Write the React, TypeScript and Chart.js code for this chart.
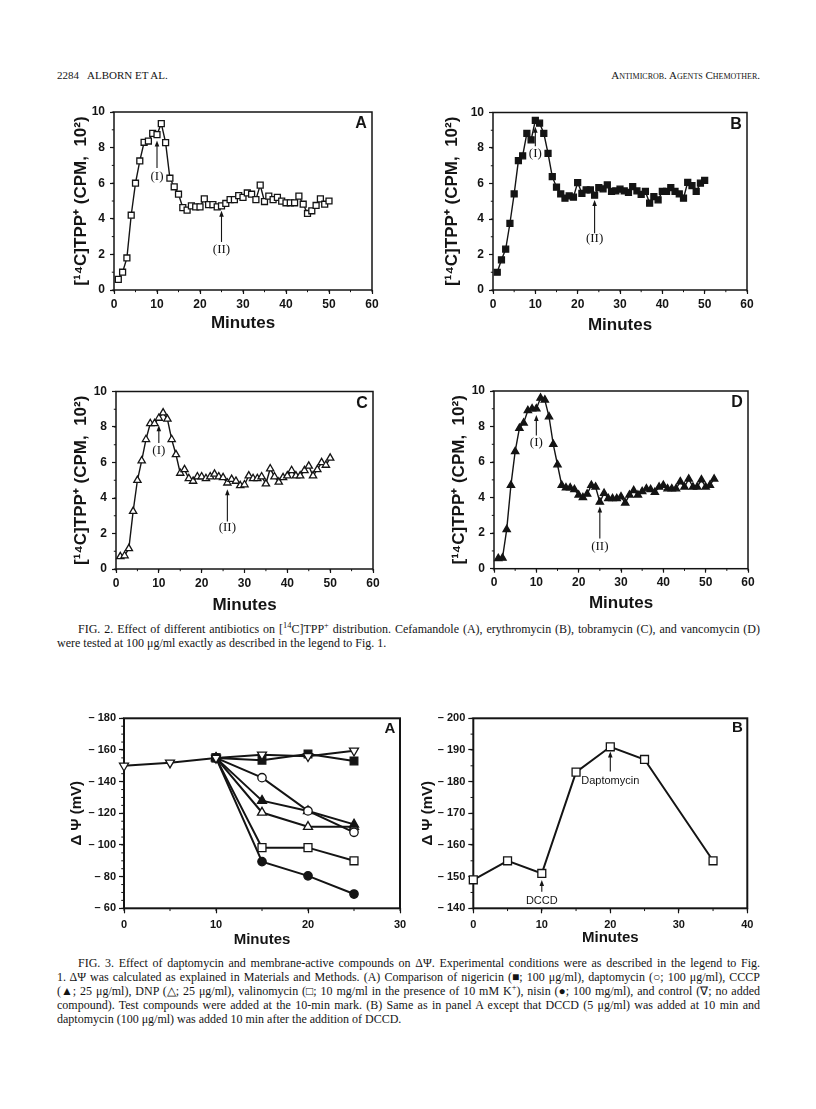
import React, { useEffect, useLayoutEffect, useRef } from 'react';
import { Chart, registerables } from 'chart.js';

Chart.register(...registerables);

const INK = '#141414';
const SANS = '"Liberation Sans", Arial, Helvetica, sans-serif';
const SERIF = '"Liberation Serif", "Times New Roman", serif';

// ---------- Fig. 2 data ----------
const fig2Minutes = [1, 2, 3, 4, 5, 6, 7, 8, 9, 10, 11, 12, 13, 14, 15, 16, 17, 18, 19, 20, 21, 22, 23, 24, 25, 26, 27, 28, 29, 30, 31, 32, 33, 34, 35, 36, 37, 38, 39, 40, 41, 42, 43, 44, 45, 46, 47, 48, 49, 50];
const fig2dMinutes = [1, 2, 3, 4, 5, 6, 7, 8, 9, 10, 11, 12, 13, 14, 15, 16, 17, 18, 19, 20, 21, 22, 23, 24, 25, 26, 27, 28, 29, 30, 31, 32, 33, 34, 35, 36, 37, 38, 39, 40, 41, 42, 43, 44, 45, 46, 47, 48, 49, 50, 51, 52];
const cefamandoleCpm = [0.6, 1.0, 1.8, 4.2, 6.0, 7.25, 8.3, 8.37, 8.8, 8.73, 9.35, 8.28, 6.28, 5.8, 5.38, 4.63, 4.49, 4.73, 4.67, 4.67, 5.12, 4.8, 4.8, 4.67, 4.73, 4.86, 5.08, 5.08, 5.3, 5.2, 5.45, 5.38, 5.08, 5.89, 4.97, 5.27, 5.08, 5.2, 4.99, 4.9, 4.9, 4.9, 5.27, 4.82, 4.3, 4.45, 4.75, 5.12, 4.82, 5.0];
const erythromycinCpm = [1.0, 1.7, 2.3, 3.76, 5.41, 7.29, 7.56, 8.83, 8.46, 9.55, 9.4, 8.83, 7.7, 6.39, 5.79, 5.41, 5.17, 5.3, 5.23, 6.05, 5.45, 5.64, 5.64, 5.34, 5.77, 5.7, 5.92, 5.55, 5.58, 5.68, 5.58, 5.5, 5.83, 5.58, 5.39, 5.55, 4.89, 5.26, 5.08, 5.55, 5.55, 5.77, 5.55, 5.41, 5.17, 6.07, 5.88, 5.55, 6.02, 6.17];
const tobramycinCpm = [0.7, 0.75, 1.15, 3.25, 5.0, 6.1, 7.3, 8.2, 8.2, 8.5, 8.8, 8.45, 7.3, 6.45, 5.4, 5.6, 5.1, 4.95, 5.2, 5.2, 5.1, 5.2, 5.35, 5.2, 5.15, 4.85, 5.05, 4.95, 4.7, 4.75, 5.25, 5.1, 5.1, 5.2, 4.8, 5.65, 5.2, 4.9, 5.15, 5.25, 5.55, 5.25, 5.25, 5.55, 5.8, 5.25, 5.6, 6.0, 5.85, 6.25];
const vancomycinCpm = [0.58, 0.6, 2.2, 4.7, 6.6, 7.9, 8.2, 8.9, 9.0, 9.0, 9.6, 9.5, 8.55, 7.0, 5.85, 4.7, 4.55, 4.55, 4.45, 4.15, 4.0, 4.2, 4.7, 4.6, 3.75, 4.25, 3.95, 3.95, 3.95, 4.05, 3.7, 4.15, 4.4, 4.15, 4.35, 4.5, 4.45, 4.3, 4.6, 4.7, 4.5, 4.5, 4.5, 4.9, 4.6, 5.05, 4.6, 4.6, 5.0, 4.6, 4.7, 5.05];
const fig2XTicks = [0, 10, 20, 30, 40, 50, 60];
const fig2YTicks = [0, 2, 4, 6, 8, 10];

// ---------- Fig. 3 data ----------
const fig3aMinutes = [0, 5, 10, 15, 20, 25];
const fig3aTreatMinutes = [10, 15, 20, 25];
const controlMv = [-150, -152, -155, -157, -156, -159.5];
const nigericinMv = [-155, -153.5, -157.5, -153];
const daptomycinMv = [-155, -142.5, -121.5, -108];
const cccpMv = [-155, -128, -121.5, -113];
const dnpMv = [-155, -120.5, -111.5, -111.5];
const valinomycinMv = [-155, -98.3, -98.3, -90];
const nisinMv = [-155, -89.5, -80.5, -69];
const fig3aXTicks = [0, 10, 20, 30];
const fig3aYTicks = [-180, -160, -140, -120, -100, -80, -60];

const fig3bMinutes = [0, 5, 10, 15, 20, 25, 35];
const dccdMv = [-149, -155, -151, -183, -191, -187, -155];
const fig3bXTicks = [0, 10, 20, 30, 40];
const fig3bYTicks = [-200, -190, -180, -170, -160, -150, -140];

type Ann = { x: number; tip: number; tail: number; labelY: number; label: string; font: string };
type Spec = {
  area: { l: number; t: number; r: number; b: number };
  yTitleX: number;
  xTitleY: number;
  yTitle: string;
  yTitleSize: number;
  xTitleSize: number;
  tickSize: number;
  xMin: number; xMax: number; xTicks: number[]; xMinor: number;
  yMin: number; yMax: number; yTicks: number[]; yMinor: number;
  reverse: boolean;
  fmt: (v: number) => string;
  datasets: any[];
  letter: string; letterSize: number; letterDx: number; letterDy: number;
  annotations: Ann[];
  frameW: number;
  tickLen: number; xPad: number; yPad: number;
};

function series(xs: number[], ys: number[], style: string, filled: boolean, r: number, lineW: number, rot = 0) {
  return {
    data: xs.map((x, i) => ({ x, y: ys[i] })),
    borderColor: INK,
    borderWidth: lineW,
    pointStyle: style,
    pointRotation: rot,
    pointRadius: r,
    pointHoverRadius: r,
    pointBackgroundColor: filled ? INK : '#ffffff',
    pointBorderColor: INK,
    pointBorderWidth: 1.3,
    tension: 0,
    fill: false,
    clip: false,
  };
}

function decorPlugin(s: Spec) {
  return {
    id: 'decor',
    beforeDatasetsDraw(chart: any) {
      const { ctx, chartArea: a } = chart;
      const xs = chart.scales.x;
      const ys = chart.scales.y;
      ctx.save();
      ctx.strokeStyle = INK;
      ctx.lineWidth = s.frameW;
      ctx.strokeRect(a.left, a.top, a.right - a.left, a.bottom - a.top);
      ctx.lineWidth = 1;
      ctx.beginPath();
      const mlen = s.tickLen * 0.55;
      for (let v = s.xMin; v <= s.xMax + 1e-9; v += s.xMinor) {
        const p = xs.getPixelForValue(v);
        ctx.moveTo(p, a.bottom);
        ctx.lineTo(p, a.bottom + mlen);
      }
      const lo = Math.min(s.yMin, s.yMax);
      const hi = Math.max(s.yMin, s.yMax);
      for (let v = lo; v <= hi + 1e-9; v += s.yMinor) {
        const p = ys.getPixelForValue(v);
        ctx.moveTo(a.left, p);
        ctx.lineTo(a.left - mlen, p);
      }
      ctx.stroke();
      ctx.restore();
    },
    afterDatasetsDraw(chart: any) {
      const { ctx, chartArea: a } = chart;
      const xs = chart.scales.x;
      const ys = chart.scales.y;
      ctx.save();
      ctx.fillStyle = INK;
      ctx.strokeStyle = INK;
      ctx.font = `bold ${s.letterSize}px ${SANS}`;
      ctx.textAlign = 'center';
      ctx.textBaseline = 'middle';
      ctx.fillText(s.letter, a.right - s.letterDx, a.top + s.letterDy);
      for (const an of s.annotations) {
        const px = xs.getPixelForValue(an.x);
        const tip = ys.getPixelForValue(an.tip);
        const tail = ys.getPixelForValue(an.tail);
        const dir = tip < tail ? -1 : 1;
        ctx.lineWidth = 1.1;
        ctx.beginPath();
        ctx.moveTo(px, tail);
        ctx.lineTo(px, tip - dir * 4);
        ctx.stroke();
        ctx.beginPath();
        ctx.moveTo(px, tip);
        ctx.lineTo(px - 2.3, tip - dir * 6);
        ctx.lineTo(px + 2.3, tip - dir * 6);
        ctx.closePath();
        ctx.fill();
        ctx.font = an.font;
        ctx.fillText(an.label, px, ys.getPixelForValue(an.labelY));
      }
      ctx.restore();
    },
  };
}

function ChartBox({ spec }: { spec: Spec }) {
  const ref = useRef<HTMLCanvasElement>(null);
  const left = Math.round(spec.yTitleX - 15);
  const top = Math.round(spec.area.t - 20);
  const W = Math.round(spec.area.r + 25 - left);
  const H = Math.round(spec.xTitleY + 15 - top);
  useEffect(() => {
    const s = spec;
    const tickFont = { family: SANS, size: s.tickSize, weight: 'bold' as const };
    const chart = new Chart(ref.current as HTMLCanvasElement, {
      type: 'line',
      data: { datasets: s.datasets },
      options: {
        animation: false,
        responsive: false,
        maintainAspectRatio: false,
        events: [],
        layout: { padding: { left: 0, top: s.area.t - top, right: left + W - s.area.r, bottom: 0 } },
        plugins: { legend: { display: false }, tooltip: { enabled: false } },
        scales: {
          x: {
            type: 'linear',
            min: s.xMin,
            max: s.xMax,
            afterBuildTicks: (sc: any) => { sc.ticks = s.xTicks.map((v) => ({ value: v })); },
            afterFit: (sc: any) => { sc.height = top + H - s.area.b; },
            grid: { drawOnChartArea: false, drawTicks: true, tickLength: s.tickLen, tickColor: INK, tickWidth: 1.2, color: INK },
            border: { display: false },
            ticks: { color: INK, font: tickFont, padding: s.xPad, maxRotation: 0, autoSkip: false, callback: (v: any) => String(v) },
            title: { display: true, text: 'Minutes', color: INK, font: { family: SANS, size: s.xTitleSize, weight: 'bold', lineHeight: 1.2 }, padding: { top: 0, bottom: 15 - s.xTitleSize * 0.6 } },
          },
          y: {
            type: 'linear',
            min: s.yMin,
            max: s.yMax,
            reverse: s.reverse,
            afterBuildTicks: (sc: any) => { sc.ticks = s.yTicks.map((v) => ({ value: v })); },
            afterFit: (sc: any) => { sc.width = s.area.l - left; },
            grid: { drawOnChartArea: false, drawTicks: true, tickLength: s.tickLen, tickColor: INK, tickWidth: 1.2, color: INK },
            border: { display: false },
            ticks: { color: INK, font: tickFont, padding: s.yPad, autoSkip: false, callback: (v: any) => s.fmt(Number(v)) },
            title: { display: true, text: s.yTitle, color: INK, font: { family: SANS, size: s.yTitleSize, weight: 'bold', lineHeight: 1.2 }, padding: { top: 15 - s.yTitleSize * 0.6, bottom: 0 } },
          },
        },
      } as any,
      plugins: [decorPlugin(s) as any],
    });
    return () => chart.destroy();
  }, []);
  return <canvas ref={ref} width={W} height={H} style={{ position: 'absolute', left, top, width: W, height: H }} />;
}

const romanFont = `13px ${SERIF}`;
const fig2YTitle = '[¹⁴C]TPP⁺ (CPM,  10²)';

function fig2Spec(area: Spec['area'], yTitleX: number, xTitleY: number, datasets: any[], letter: string, annotations: Ann[]): Spec {
  return {
    area, yTitleX, xTitleY,
    yTitle: fig2YTitle, yTitleSize: 17, xTitleSize: 17, tickSize: 12,
    xMin: 0, xMax: 60, xTicks: fig2XTicks, xMinor: 5,
    yMin: 0, yMax: 10, yTicks: fig2YTicks, yMinor: 1,
    reverse: false,
    fmt: (v) => String(v),
    datasets, letter, letterSize: 16, letterDx: 11, letterDy: 12,
    annotations, frameW: 1.5, tickLen: 4, xPad: 3, yPad: 5,
  };
}

const specA = fig2Spec({ l: 114, t: 112, r: 372, b: 290 }, 81, 323,
  [series(fig2Minutes, cefamandoleCpm, 'rect', false, 4.2, 1.4)], 'A',
  [
    { x: 10, tip: 8.4, tail: 6.85, labelY: 6.4, label: '(I)', font: romanFont },
    { x: 25, tip: 4.45, tail: 2.7, labelY: 2.25, label: '(II)', font: romanFont },
  ]);
const specB = fig2Spec({ l: 493, t: 112.5, r: 747, b: 290 }, 452, 325,
  [series(fig2Minutes, erythromycinCpm, 'rect', true, 4.2, 1.4)], 'B',
  [
    { x: 10, tip: 9.2, tail: 8.1, labelY: 7.7, label: '(I)', font: romanFont },
    { x: 24, tip: 5.07, tail: 3.2, labelY: 2.9, label: '(II)', font: romanFont },
  ]);
const specC = fig2Spec({ l: 116, t: 391.5, r: 373, b: 569 }, 81, 605,
  [series(fig2Minutes, tobramycinCpm, 'triangle', false, 4.2, 1.4)], 'C',
  [
    { x: 10, tip: 8.1, tail: 7.1, labelY: 6.65, label: '(I)', font: romanFont },
    { x: 26, tip: 4.5, tail: 2.67, labelY: 2.35, label: '(II)', font: romanFont },
  ]);
const specD = fig2Spec({ l: 494, t: 391, r: 748, b: 568.7 }, 459, 603,
  [series(fig2dMinutes, vancomycinCpm, 'triangle', true, 4.2, 1.4)], 'D',
  [
    { x: 10, tip: 8.65, tail: 7.5, labelY: 7.1, label: '(I)', font: romanFont },
    { x: 25, tip: 3.5, tail: 1.7, labelY: 1.25, label: '(II)', font: romanFont },
  ]);

const fmtNeg = (v: number) => `– ${Math.abs(v)}`;
const LW3 = 2;
const spec3A: Spec = {
  area: { l: 124, t: 718.3, r: 400, b: 908.3 }, yTitleX: 77, xTitleY: 940,
  yTitle: 'Δ Ψ (mV)', yTitleSize: 15, xTitleSize: 15, tickSize: 11,
  xMin: 0, xMax: 30, xTicks: fig3aXTicks, xMinor: 5,
  yMin: -180, yMax: -60, yTicks: fig3aYTicks, yMinor: 5,
  reverse: true, fmt: fmtNeg,
  datasets: [
    series(fig3aMinutes, controlMv, 'triangle', false, 5.2, LW3, 180),
    series(fig3aTreatMinutes, nigericinMv, 'rect', true, 5.4, LW3),
    series(fig3aTreatMinutes, daptomycinMv, 'circle', false, 4.2, LW3),
    series(fig3aTreatMinutes, cccpMv, 'triangle', true, 5.2, LW3),
    series(fig3aTreatMinutes, dnpMv, 'triangle', false, 5.2, LW3),
    series(fig3aTreatMinutes, valinomycinMv, 'rect', false, 5.6, LW3),
    series(fig3aTreatMinutes, nisinMv, 'circle', true, 4.2, LW3),
  ],
  letter: 'A', letterSize: 15, letterDx: 10, letterDy: 11,
  annotations: [], frameW: 2, tickLen: 5, xPad: 5, yPad: 3,
};
const spec3B: Spec = {
  area: { l: 473.3, t: 718.3, r: 747.3, b: 908.3 }, yTitleX: 428, xTitleY: 938,
  yTitle: 'Δ Ψ (mV)', yTitleSize: 15, xTitleSize: 15, tickSize: 11,
  xMin: 0, xMax: 40, xTicks: fig3bXTicks, xMinor: 5,
  yMin: -200, yMax: -140, yTicks: fig3bYTicks, yMinor: 5,
  reverse: true, fmt: fmtNeg,
  datasets: [series(fig3bMinutes, dccdMv, 'rect', false, 5.6, LW3)],
  letter: 'B', letterSize: 15, letterDx: 10, letterDy: 10,
  annotations: [
    { x: 10, tip: -148.9, tail: -145.2, labelY: -142.3, label: 'DCCD', font: `11px ${SANS}` },
    { x: 20, tip: -189.5, tail: -183.2, labelY: -180.2, label: 'Daptomycin', font: `11px ${SANS}` },
  ],
  frameW: 2, tickLen: 5, xPad: 5, yPad: 3,
};

function TextLine({ top, left, width, justify, children }: { top: number; left: number; width: number; justify: boolean; children: React.ReactNode }) {
  const ref = useRef<HTMLSpanElement>(null);
  useLayoutEffect(() => {
    const el = ref.current;
    if (!el || !justify) return;
    el.style.wordSpacing = '0px';
    const w = el.getBoundingClientRect().width;
    const n = ((el.textContent || '').match(/ /g) || []).length;
    if (n) el.style.wordSpacing = `${(width - w) / n}px`;
  }, []);
  return (
    <span ref={ref} style={{ position: 'absolute', left, top, whiteSpace: 'nowrap', fontFamily: SERIF, fontSize: 12, lineHeight: '14px', color: INK }}>
      {children}
    </span>
  );
}

const supStyle: React.CSSProperties = { fontSize: '0.7em', verticalAlign: 'top', lineHeight: '10px', position: 'relative', top: -1 };

export default function App() {
  const L = 57;
  const R = 760;
  return (
    <div style={{ position: 'absolute', left: 0, top: 0, width: 816, height: 1109, background: '#fff', overflow: 'hidden' }}>
      <span style={{ position: 'absolute', left: 57, top: 68, fontFamily: SERIF, fontSize: 11, lineHeight: '14px', color: INK }}>2284</span>
      <span style={{ position: 'absolute', left: 87, top: 68, fontFamily: SERIF, fontSize: 11, lineHeight: '14px', color: INK }}>ALBORN ET AL.</span>
      <span style={{ position: 'absolute', right: 816 - R, top: 68, fontFamily: SERIF, fontSize: 11, lineHeight: '14px', color: INK, fontVariant: 'small-caps' }}>Antimicrob. Agents Chemother.</span>

      <ChartBox spec={specA} />
      <ChartBox spec={specB} />
      <ChartBox spec={specC} />
      <ChartBox spec={specD} />
      <ChartBox spec={spec3A} />
      <ChartBox spec={spec3B} />

      <TextLine top={622} left={78} width={R - 78} justify>
        FIG. 2. Effect of different antibiotics on [<sup style={supStyle}>14</sup>C]TPP<sup style={supStyle}>+</sup> distribution. Cefamandole (A), erythromycin (B), tobramycin (C), and vancomycin (D)
      </TextLine>
      <TextLine top={636} left={L} width={R - L} justify={false}>
        were tested at 100 μg/ml exactly as described in the legend to Fig. 1.
      </TextLine>

      <TextLine top={956} left={78} width={R - 78} justify>
        FIG. 3. Effect of daptomycin and membrane-active compounds on ΔΨ. Experimental conditions were as described in the legend to Fig.
      </TextLine>
      <TextLine top={970} left={L} width={R - L} justify>
        1. ΔΨ was calculated as explained in Materials and Methods. (A) Comparison of nigericin (■; 100 μg/ml), daptomycin (○; 100 μg/ml), CCCP
      </TextLine>
      <TextLine top={984} left={L} width={R - L} justify>
        (▲; 25 μg/ml), DNP (△; 25 μg/ml), valinomycin (□; 10 mg/ml in the presence of 10 mM K<sup style={supStyle}>+</sup>), nisin (●; 100 mg/ml), and control (∇; no added
      </TextLine>
      <TextLine top={998} left={L} width={R - L} justify>
        compound). Test compounds were added at the 10-min mark. (B) Same as in panel A except that DCCD (5 μg/ml) was added at 10 min and
      </TextLine>
      <TextLine top={1012} left={L} width={R - L} justify={false}>
        daptomycin (100 μg/ml) was added 10 min after the addition of DCCD.
      </TextLine>
    </div>
  );
}
